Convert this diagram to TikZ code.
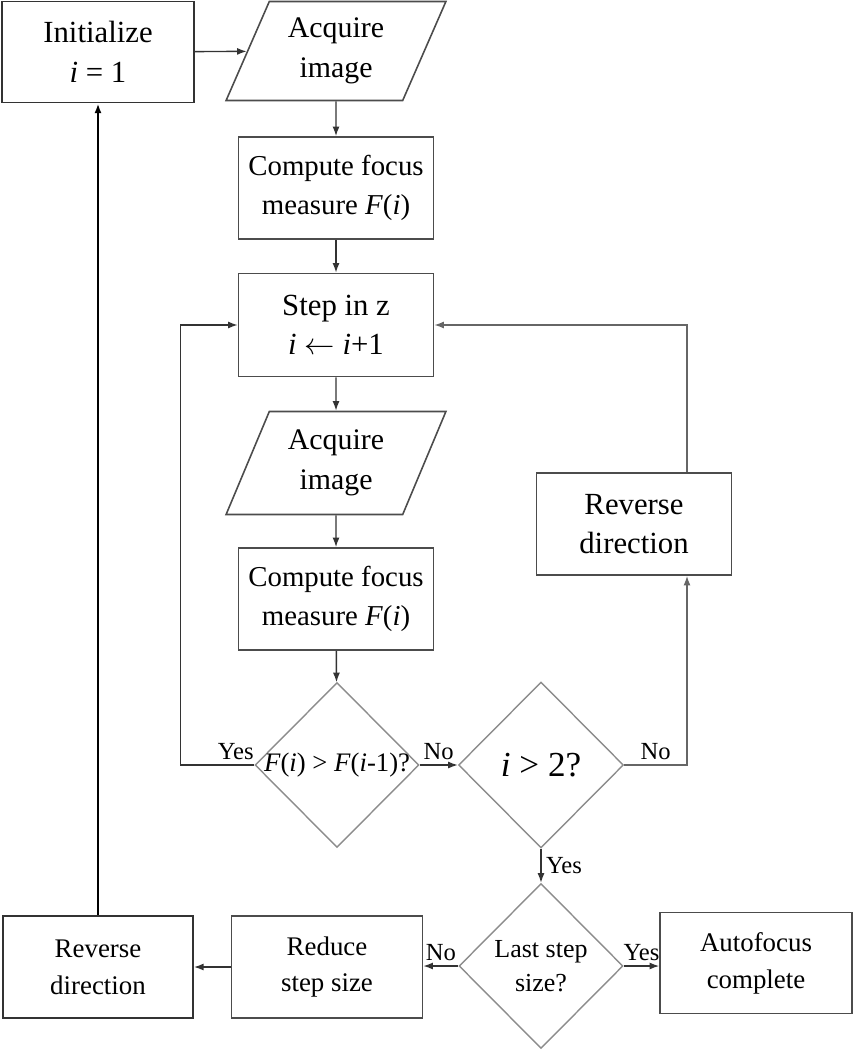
\documentclass[tikz,border=0pt]{standalone}
\usepackage{fontspec}
\setmainfont{Liberation Serif}
\usepackage{tikz}
\usetikzlibrary{shapes.geometric,arrows,arrows.meta}
\tikzset{
  basic/.style    = {draw=black!70, line width=0.9pt, align=center, fill=white, inner sep=1pt},
  process/.style  = {basic, rectangle, minimum width=3.9cm, minimum height=2.04cm, font=\fontsize{16.4}{22}\selectfont},
  bigbox/.style   = {process, font=\fontsize{17.5}{22.5}\selectfont},
  lowbox/.style   = {process, minimum width=3.84cm, font=\fontsize{15.3}{21}\selectfont},
  io/.style       = {basic, trapezium, trapezium left angle=65, trapezium right angle=115, trapezium stretches=true,
                     minimum width=4.44cm, minimum height=1.98cm, font=\fontsize{17}{22.5}\selectfont},
  decision/.style = {draw=black!45, line width=0.8pt, diamond, align=center, inner sep=0pt,
                     minimum width=3.3cm, minimum height=3.32cm},
  flow/.style     = {draw=black!80, line width=0.8pt, -{Latex[length=5.5pt,width=4pt]}},
  lbl/.style      = {font=\fontsize{14}{16}\selectfont, inner sep=2.5pt}
}

\begin{document}
\begin{tikzpicture}[x=0.02cm, y=-0.02cm]
	\useasboundingbox (0,0) rectangle (855,1050);
	\node[bigbox, minimum width=3.84cm, minimum height=2.02cm, line width=1.1pt, draw=black!80] (init) at (98,52) {Initialize\\\textit{i} = 1};
	\node[io] (acq1) at (336,51) {Acquire\\image};
	\node[process] (comp1) at (336,188) {Compute focus\\measure \textit{F}(\textit{i})};
	\node[bigbox, minimum height=2.06cm] (stepz) at (336,325) {Step in z\\\textit{i} $\leftarrow$ \textit{i}+1};
	\node[io, minimum height=2.06cm] (acq2) at (336,463) {Acquire\\image};
	\node[process] (comp2) at (336,599) {Compute focus\\measure \textit{F}(\textit{i})};
	\node[decision, minimum width=3.28cm, minimum height=3.3cm] (d1) at (337,765) {};
	\node[font=\fontsize{15.2}{18}\selectfont, inner sep=0pt] (d1text) at (d1) {\textit{F}(\textit{i}) > \textit{F}(\textit{i}-1)?};
	\node[decision, font=\fontsize{20}{24}\selectfont] (d2) at (541,765) {\textit{i} > 2?};
	\node[bigbox] (rev1) at (634,524) {Reverse\\direction};
	\node[decision, minimum width=3.28cm, minimum height=3.3cm, font=\fontsize{14.8}{19.5}\selectfont] (d3) at (541,966) {Last step\\size?};
	\node[lowbox, minimum width=3.82cm] (reduce) at (327,967) {Reduce\\step size};
	\node[lowbox, minimum width=3.8cm, line width=1.1pt, draw=black!80] (rev2) at (98,967) {Reverse\\direction};
	\node[lowbox, minimum height=2.02cm] (done) at (756,963) {Autofocus\\complete};

	\draw[flow] (init) -- (acq1);
	\draw[flow] (acq1) -- (comp1);
	\draw[flow] (comp1) -- (stepz);
	\draw[flow] (stepz) -- (acq2);
	\draw[flow] (acq2) -- (comp2);
	\draw[flow] (comp2) -- (d1);
	\draw[flow] (d1.west) -- node[lbl, pos=0.25, above] {Yes} ++(-74,0) |- (stepz.west);
	\draw[flow] (d1.east) -- node[lbl, above] {No} (d2.west);
	\draw[flow, draw=black!60] (d2.east) -| node[lbl, pos=0.25, above] {No} ([xshift=1.06cm]rev1.south);
	\draw[flow, draw=black!60] ([xshift=1.06cm]rev1.north) |- (stepz.east);
	\draw[flow] (d2.south) -- node[lbl, right] {Yes} (d3.north);
	\draw[flow] (d3.west) -- node[lbl, above] {No} (d3.west -| reduce.east);
	\draw[flow] (d3.east) -- node[lbl, above] {Yes} (d3.east -| done.west);
	\draw[flow] (reduce.west) -- (rev2.east);
	\draw[flow, line width=1.1pt, draw=black] (rev2.north) -- (init.south);
\end{tikzpicture}
\end{document}
